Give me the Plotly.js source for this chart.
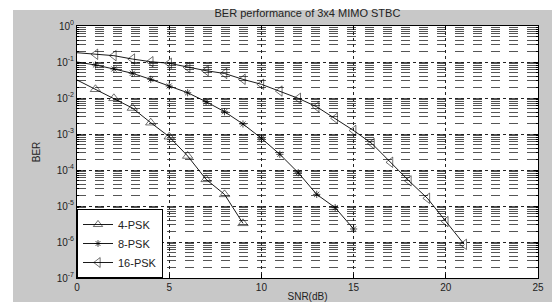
<!DOCTYPE html>
<html>
<head>
<meta charset="utf-8">
<script src="https://cdn.plot.ly/plotly-3.0.1.min.js"></script>
<style>
html,body{margin:0;padding:0;background:#fff;}
#wrap{position:relative;width:552px;height:302px;background:#fff;}
#gray{position:absolute;left:13px;top:10px;width:539px;height:292px;background:#c8c8c8;}
#chart{position:absolute;left:0;top:0;width:552px;height:302px;}
</style>
</head>
<body>
<div id="wrap"><div id="gray"></div><div id="chart"></div></div>
<script>
var snr4 = [0,1,2,3,4,5,6,7,8,9];
var ber4 = [0.0316,0.0175,0.0098,0.00527,0.00206,8.4e-4,2.45e-4,5.5e-5,2.1e-5,3.3e-6];
var snr8 = [0,1,2,3,4,5,6,7,8,9,10,11,12,13,14,15];
var ber8 = [0.1,0.0826,0.064,0.0486,0.033,0.0215,0.014,0.00789,0.00416,0.0019,7.6e-4,2.73e-4,8.4e-5,2.1e-5,9.0e-6,2.3e-6];
var snr16 = [0,1,2,3,4,5,6,7,8,9,10,11,12,13,14,15,16,17,18,19,20,21];
var ber16 = [0.181,0.164,0.150,0.121,0.102,0.092,0.0713,0.0573,0.048,0.033,0.024,0.0156,0.0098,0.0057,0.00273,0.00125,5.4e-4,1.64e-4,5.0e-5,1.64e-5,3.7e-6,8.6e-7];
var seriesNames = ['4-PSK','8-PSK','16-PSK'];
var xTicks = [0,5,10,15,20,25];
var yTickVals = [1e-7,1e-6,1e-5,1e-4,1e-3,1e-2,1e-1,1];
var yTickText = ['10<sup>-7</sup>','10<sup>-6</sup>','10<sup>-5</sup>','10<sup>-4</sup>','10<sup>-3</sup>','10<sup>-2</sup>','10<sup>-1</sup>','10<sup>0</sup>'];

function sizes(xs, s){ return xs.map(function(v,i){ return i===0 ? 0 : s; }); }

var lineStyle = {color:'#000', width:0.9};
var traces = [
  {x:snr4, y:ber4, name:seriesNames[0], mode:'lines+markers', line:lineStyle,
   marker:{symbol:'triangle-up-open', size:sizes(snr4,9), color:'#000', line:{width:0.8,color:'#000'}}},
  {x:snr8, y:ber8, name:seriesNames[1], mode:'lines+markers', line:lineStyle,
   marker:{symbol:'asterisk-open', size:sizes(snr8,6), color:'#000', line:{width:1,color:'#000'}}},
  {x:snr16, y:ber16, name:seriesNames[2], mode:'lines+markers', line:lineStyle,
   marker:{symbol:'triangle-left-open', size:sizes(snr16,9), color:'#000', line:{width:0.8,color:'#000'}}}
];

var font = {family:'"Liberation Sans", Arial, sans-serif', color:'#222'};
var layout = {
  width:552, height:302,
  margin:{l:77, r:14, t:26, b:24, pad:0},
  paper_bgcolor:'rgba(0,0,0,0)',
  plot_bgcolor:'#ffffff',
  font:font,
  showlegend:true,
  title:{text:'BER performance of 3x4 MIMO STBC', font:{family:font.family, size:11, color:'#222'},
         x:0.557, xanchor:'center', y:0.955, yanchor:'middle'},
  xaxis:{range:[0,25], tickvals:xTicks, ticks:'inside', ticklen:4, tickcolor:'#000',
         showline:true, linecolor:'#000', linewidth:1, mirror:'ticks', zeroline:false,
         showgrid:true, gridcolor:'#222', griddash:'dot', gridwidth:1,
         tickfont:{size:10, color:'#222'},
         title:{text:'SNR(dB)', font:{size:10, color:'#222'}, standoff:2}},
  yaxis:{type:'log', range:[-7,0], tickvals:yTickVals, ticktext:yTickText,
         ticks:'inside', ticklen:4, tickcolor:'#000',
         showline:true, linecolor:'#000', linewidth:1, mirror:'ticks',
         showgrid:true, gridcolor:'#222', griddash:'dot', gridwidth:1,
         tickfont:{size:10, color:'#222'},
         minor:{showgrid:true, gridcolor:'#555', griddash:'dash', gridwidth:1, ticks:'inside', ticklen:2, tickcolor:'#000', dtick:'D1'},
         title:{text:'BER', font:{size:10, color:'#222'}, standoff:14}},
  legend:{x:0, y:0, xanchor:'left', yanchor:'bottom', bgcolor:'#fff', bordercolor:'#000', borderwidth:1,
          font:{size:11, color:'#222'}, tracegroupgap:0, itemwidth:30}
};

Plotly.newPlot('chart', traces, layout, {displayModeBar:false, staticPlot:true});
</script>
</body>
</html>
